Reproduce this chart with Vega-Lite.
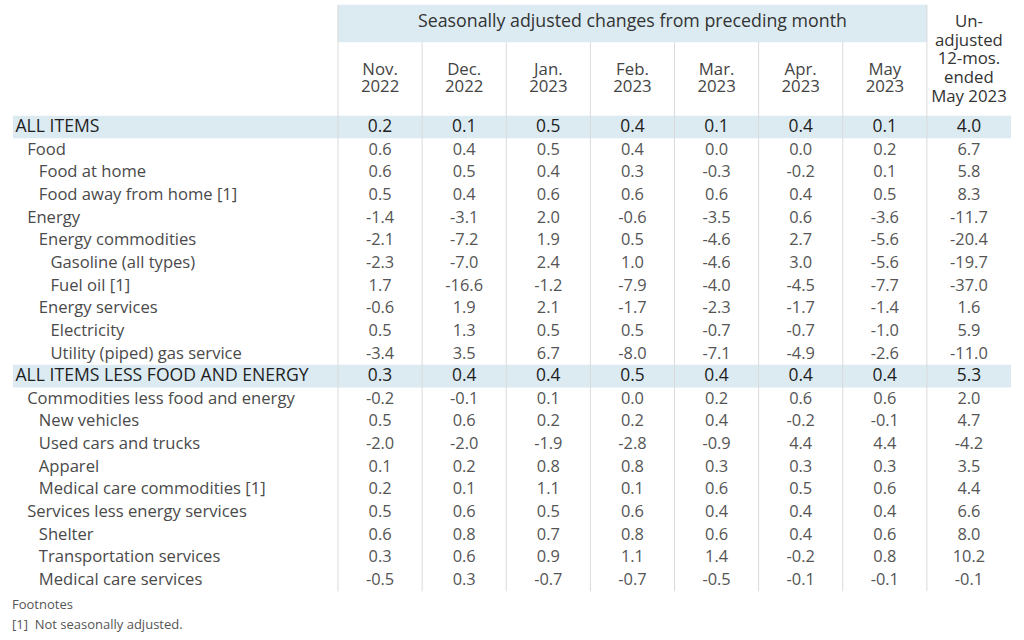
{
  "$schema": "https://vega.github.io/schema/vega-lite/v6.json",
  "width": 1024,
  "height": 640,
  "autosize": "none",
  "padding": 0,
  "background": "white",
  "config": {
    "view": {"stroke": null},
    "text": {"font": "Open Sans"},
    "locale": {"number": {"decimal": ".", "thousands": ",", "grouping": [3], "currency": ["$", ""], "minus": "-"}}
  },
  "datasets": {
    "rows": [
      {"row": 1, "item": "ALL ITEMS", "level": 0, "summary": true, "nov22": 0.2, "dec22": 0.1, "jan23": 0.5, "feb23": 0.4, "mar23": 0.1, "apr23": 0.4, "may23": 0.1, "yoy": 4.0},
      {"row": 2, "item": "Food", "level": 1, "summary": false, "nov22": 0.6, "dec22": 0.4, "jan23": 0.5, "feb23": 0.4, "mar23": 0.0, "apr23": 0.0, "may23": 0.2, "yoy": 6.7},
      {"row": 3, "item": "Food at home", "level": 2, "summary": false, "nov22": 0.6, "dec22": 0.5, "jan23": 0.4, "feb23": 0.3, "mar23": -0.3, "apr23": -0.2, "may23": 0.1, "yoy": 5.8},
      {"row": 4, "item": "Food away from home [1]", "level": 2, "summary": false, "nov22": 0.5, "dec22": 0.4, "jan23": 0.6, "feb23": 0.6, "mar23": 0.6, "apr23": 0.4, "may23": 0.5, "yoy": 8.3},
      {"row": 5, "item": "Energy", "level": 1, "summary": false, "nov22": -1.4, "dec22": -3.1, "jan23": 2.0, "feb23": -0.6, "mar23": -3.5, "apr23": 0.6, "may23": -3.6, "yoy": -11.7},
      {"row": 6, "item": "Energy commodities", "level": 2, "summary": false, "nov22": -2.1, "dec22": -7.2, "jan23": 1.9, "feb23": 0.5, "mar23": -4.6, "apr23": 2.7, "may23": -5.6, "yoy": -20.4},
      {"row": 7, "item": "Gasoline (all types)", "level": 3, "summary": false, "nov22": -2.3, "dec22": -7.0, "jan23": 2.4, "feb23": 1.0, "mar23": -4.6, "apr23": 3.0, "may23": -5.6, "yoy": -19.7},
      {"row": 8, "item": "Fuel oil [1]", "level": 3, "summary": false, "nov22": 1.7, "dec22": -16.6, "jan23": -1.2, "feb23": -7.9, "mar23": -4.0, "apr23": -4.5, "may23": -7.7, "yoy": -37.0},
      {"row": 9, "item": "Energy services", "level": 2, "summary": false, "nov22": -0.6, "dec22": 1.9, "jan23": 2.1, "feb23": -1.7, "mar23": -2.3, "apr23": -1.7, "may23": -1.4, "yoy": 1.6},
      {"row": 10, "item": "Electricity", "level": 3, "summary": false, "nov22": 0.5, "dec22": 1.3, "jan23": 0.5, "feb23": 0.5, "mar23": -0.7, "apr23": -0.7, "may23": -1.0, "yoy": 5.9},
      {"row": 11, "item": "Utility (piped) gas service", "level": 3, "summary": false, "nov22": -3.4, "dec22": 3.5, "jan23": 6.7, "feb23": -8.0, "mar23": -7.1, "apr23": -4.9, "may23": -2.6, "yoy": -11.0},
      {"row": 12, "item": "ALL ITEMS LESS FOOD AND ENERGY", "level": 0, "summary": true, "nov22": 0.3, "dec22": 0.4, "jan23": 0.4, "feb23": 0.5, "mar23": 0.4, "apr23": 0.4, "may23": 0.4, "yoy": 5.3},
      {"row": 13, "item": "Commodities less food and energy", "level": 1, "summary": false, "nov22": -0.2, "dec22": -0.1, "jan23": 0.1, "feb23": 0.0, "mar23": 0.2, "apr23": 0.6, "may23": 0.6, "yoy": 2.0},
      {"row": 14, "item": "New vehicles", "level": 2, "summary": false, "nov22": 0.5, "dec22": 0.6, "jan23": 0.2, "feb23": 0.2, "mar23": 0.4, "apr23": -0.2, "may23": -0.1, "yoy": 4.7},
      {"row": 15, "item": "Used cars and trucks", "level": 2, "summary": false, "nov22": -2.0, "dec22": -2.0, "jan23": -1.9, "feb23": -2.8, "mar23": -0.9, "apr23": 4.4, "may23": 4.4, "yoy": -4.2},
      {"row": 16, "item": "Apparel", "level": 2, "summary": false, "nov22": 0.1, "dec22": 0.2, "jan23": 0.8, "feb23": 0.8, "mar23": 0.3, "apr23": 0.3, "may23": 0.3, "yoy": 3.5},
      {"row": 17, "item": "Medical care commodities [1]", "level": 2, "summary": false, "nov22": 0.2, "dec22": 0.1, "jan23": 1.1, "feb23": 0.1, "mar23": 0.6, "apr23": 0.5, "may23": 0.6, "yoy": 4.4},
      {"row": 18, "item": "Services less energy services", "level": 1, "summary": false, "nov22": 0.5, "dec22": 0.6, "jan23": 0.5, "feb23": 0.6, "mar23": 0.4, "apr23": 0.4, "may23": 0.4, "yoy": 6.6},
      {"row": 19, "item": "Shelter", "level": 2, "summary": false, "nov22": 0.6, "dec22": 0.8, "jan23": 0.7, "feb23": 0.8, "mar23": 0.6, "apr23": 0.4, "may23": 0.6, "yoy": 8.0},
      {"row": 20, "item": "Transportation services", "level": 2, "summary": false, "nov22": 0.3, "dec22": 0.6, "jan23": 0.9, "feb23": 1.1, "mar23": 1.4, "apr23": -0.2, "may23": 0.8, "yoy": 10.2},
      {"row": 21, "item": "Medical care services", "level": 2, "summary": false, "nov22": -0.5, "dec22": 0.3, "jan23": -0.7, "feb23": -0.7, "mar23": -0.5, "apr23": -0.1, "may23": -0.1, "yoy": -0.1}
    ],
    "cols": [
      {"col": "nov22", "head": "Nov.\n2022", "kind": "month"},
      {"col": "dec22", "head": "Dec.\n2022", "kind": "month"},
      {"col": "jan23", "head": "Jan.\n2023", "kind": "month"},
      {"col": "feb23", "head": "Feb.\n2023", "kind": "month"},
      {"col": "mar23", "head": "Mar.\n2023", "kind": "month"},
      {"col": "apr23", "head": "Apr.\n2023", "kind": "month"},
      {"col": "may23", "head": "May\n2023", "kind": "month"},
      {"col": "yoy", "head": "Un-\nadjusted\n12-mos.\nended\nMay 2023", "kind": "unadj"}
    ]
  },
  "resolve": {"scale": {"x": "independent", "y": "independent"}},
  "layer": [
    {
      "data": {"name": "rows"},
      "transform": [{"filter": "datum.summary"}],
      "mark": {"type": "rect", "color": "#dcebf2"},
      "encoding": {
        "x": {"datum": 0, "type": "quantitative", "scale": {"domain": [0, 1], "range": [13, 1011]}, "axis": null},
        "x2": {"datum": 1},
        "y": {"field": "row", "type": "ordinal", "scale": {"type": "band", "domain": [1,2,3,4,5,6,7,8,9,10,11,12,13,14,15,16,17,18,19,20,21], "range": [115.7, 591.3], "paddingInner": 0, "paddingOuter": 0}, "axis": null}
      }
    },
    {
      "data": {"name": "cols"},
      "transform": [{"filter": "datum.kind == 'month'"}],
      "mark": {"type": "rect", "color": "#dcebf2", "stroke": "#dcebf2", "strokeWidth": 0.6},
      "encoding": {
        "x": {"field": "col", "type": "nominal", "scale": {"type": "band", "domain": ["nov22","dec22","jan23","feb23","mar23","apr23","may23","yoy"], "range": [338, 1011], "paddingInner": 0, "paddingOuter": 0}, "axis": null},
        "y": {"datum": "title", "type": "nominal", "scale": {"type": "band", "domain": ["title","h1","h2"], "range": [5, 115.7], "paddingInner": 0, "paddingOuter": 0}, "axis": null}
      }
    },
    {
      "data": {"name": "cols"},
      "mark": {"type": "rule", "color": "#dadada", "strokeWidth": 1},
      "encoding": {
        "x": {"field": "col", "type": "nominal", "bandPosition": 0, "scale": {"type": "band", "domain": ["nov22","dec22","jan23","feb23","mar23","apr23","may23","yoy"], "range": [338, 1011], "paddingInner": 0, "paddingOuter": 0}, "axis": null},
        "y": {"datum": 1, "type": "ordinal", "bandPosition": 0, "scale": {"type": "band", "domain": [1,2,3,4,5,6,7,8,9,10,11,12,13,14,15,16,17,18,19,20,21], "range": [115.7, 591.3], "paddingInner": 0, "paddingOuter": 0}, "axis": null},
        "y2": {"datum": 21, "bandPosition": 1}
      }
    },
    {
      "data": {"name": "cols"},
      "mark": {"type": "rule", "color": "#dadada", "strokeWidth": 1},
      "encoding": {
        "x": {"field": "col", "type": "nominal", "bandPosition": 0, "scale": {"type": "band", "domain": ["nov22","dec22","jan23","feb23","mar23","apr23","may23","yoy"], "range": [338, 1011], "paddingInner": 0, "paddingOuter": 0}, "axis": null},
        "y": {"datum": "h1", "type": "nominal", "bandPosition": 0, "scale": {"type": "band", "domain": ["title","h1","h2"], "range": [5, 115.7], "paddingInner": 0, "paddingOuter": 0}, "axis": null},
        "y2": {"datum": "h2", "bandPosition": 1}
      }
    },
    {
      "data": {"name": "cols"},
      "transform": [{"filter": {"field": "col", "oneOf": ["nov22", "yoy"]}}],
      "mark": {"type": "rule", "color": "#dadada", "strokeWidth": 1},
      "encoding": {
        "x": {"field": "col", "type": "nominal", "bandPosition": 0, "scale": {"type": "band", "domain": ["nov22","dec22","jan23","feb23","mar23","apr23","may23","yoy"], "range": [338, 1011], "paddingInner": 0, "paddingOuter": 0}, "axis": null},
        "y": {"datum": "title", "type": "nominal", "bandPosition": 0, "scale": {"type": "band", "domain": ["title","h1","h2"], "range": [5, 115.7], "paddingInner": 0, "paddingOuter": 0}, "axis": null},
        "y2": {"datum": "h1", "bandPosition": 0}
      }
    },
    {
      "data": {"values": [{"t": "Seasonally adjusted changes from preceding month"}]},
      "mark": {"type": "text", "fontSize": 17.8, "color": "#333333", "align": "center", "baseline": "middle"},
      "encoding": {
        "text": {"field": "t"},
        "x": {"datum": "feb23", "type": "nominal", "scale": {"type": "band", "domain": ["nov22","dec22","jan23","feb23","mar23","apr23","may23","yoy"], "range": [338, 1011], "paddingInner": 0, "paddingOuter": 0}, "axis": null},
        "y": {"datum": "title", "type": "nominal", "bandPosition": 0.46, "scale": {"type": "band", "domain": ["title","h1","h2"], "range": [5, 115.7], "paddingInner": 0, "paddingOuter": 0}, "axis": null}
      }
    },
    {
      "data": {"name": "cols"},
      "transform": [{"filter": "datum.kind == 'month'"}],
      "mark": {"type": "text", "fontSize": 16.8, "lineHeight": 17, "lineBreak": "\n", "color": "#444444", "align": "center", "baseline": "middle"},
      "encoding": {
        "text": {"field": "head"},
        "x": {"field": "col", "type": "nominal", "scale": {"type": "band", "domain": ["nov22","dec22","jan23","feb23","mar23","apr23","may23","yoy"], "range": [338, 1011], "paddingInner": 0, "paddingOuter": 0}, "axis": null},
        "y": {"datum": "h1", "type": "nominal", "bandPosition": 0.76, "scale": {"type": "band", "domain": ["title","h1","h2"], "range": [5, 115.7], "paddingInner": 0, "paddingOuter": 0}, "axis": null}
      }
    },
    {
      "data": {"name": "cols"},
      "transform": [{"filter": "datum.kind == 'unadj'"}],
      "mark": {"type": "text", "fontSize": 16.8, "lineHeight": 18.75, "lineBreak": "\n", "color": "#333333", "align": "center", "baseline": "middle"},
      "encoding": {
        "text": {"field": "head"},
        "x": {"field": "col", "type": "nominal", "scale": {"type": "band", "domain": ["nov22","dec22","jan23","feb23","mar23","apr23","may23","yoy"], "range": [338, 1011], "paddingInner": 0, "paddingOuter": 0}, "axis": null},
        "y": {"datum": "title", "type": "nominal", "bandPosition": 0.46, "scale": {"type": "band", "domain": ["title","h1","h2"], "range": [5, 115.7], "paddingInner": 0, "paddingOuter": 0}, "axis": null}
      }
    },
    {
      "data": {"name": "rows"},
      "transform": [{"filter": "!datum.summary"}],
      "mark": {"type": "text", "fontSize": 16.6, "color": "#4a4a4a", "align": "left", "baseline": "middle"},
      "encoding": {
        "text": {"field": "item"},
        "x": {"field": "level", "type": "quantitative", "scale": {"domain": [0, 3], "range": [15.5, 50.5]}, "axis": null},
        "y": {"field": "row", "type": "ordinal", "scale": {"type": "band", "domain": [1,2,3,4,5,6,7,8,9,10,11,12,13,14,15,16,17,18,19,20,21], "range": [115.7, 591.3], "paddingInner": 0, "paddingOuter": 0}, "axis": null}
      }
    },
    {
      "data": {"name": "rows"},
      "transform": [{"filter": "datum.summary"}],
      "mark": {"type": "text", "fontSize": 17.6, "fontWeight": 500, "color": "#1e1e1e", "align": "left", "baseline": "middle"},
      "encoding": {
        "text": {"field": "item"},
        "x": {"field": "level", "type": "quantitative", "scale": {"domain": [0, 3], "range": [15.5, 50.5]}, "axis": null},
        "y": {"field": "row", "type": "ordinal", "scale": {"type": "band", "domain": [1,2,3,4,5,6,7,8,9,10,11,12,13,14,15,16,17,18,19,20,21], "range": [115.7, 591.3], "paddingInner": 0, "paddingOuter": 0}, "axis": null}
      }
    },
    {
      "data": {"name": "rows"},
      "transform": [
        {"filter": "!datum.summary"},
        {"fold": ["nov22","dec22","jan23","feb23","mar23","apr23","may23","yoy"], "as": ["col", "value"]}
      ],
      "mark": {"type": "text", "fontSize": 16.4, "color": "#555555", "align": "center", "baseline": "middle"},
      "encoding": {
        "text": {"field": "value", "type": "quantitative", "format": ".1f"},
        "x": {"field": "col", "type": "nominal", "scale": {"type": "band", "domain": ["nov22","dec22","jan23","feb23","mar23","apr23","may23","yoy"], "range": [338, 1011], "paddingInner": 0, "paddingOuter": 0}, "axis": null},
        "y": {"field": "row", "type": "ordinal", "scale": {"type": "band", "domain": [1,2,3,4,5,6,7,8,9,10,11,12,13,14,15,16,17,18,19,20,21], "range": [115.7, 591.3], "paddingInner": 0, "paddingOuter": 0}, "axis": null}
      }
    },
    {
      "data": {"name": "rows"},
      "transform": [
        {"filter": "datum.summary"},
        {"fold": ["nov22","dec22","jan23","feb23","mar23","apr23","may23","yoy"], "as": ["col", "value"]}
      ],
      "mark": {"type": "text", "fontSize": 17.4, "fontWeight": 500, "color": "#1e1e1e", "align": "center", "baseline": "middle"},
      "encoding": {
        "text": {"field": "value", "type": "quantitative", "format": ".1f"},
        "x": {"field": "col", "type": "nominal", "scale": {"type": "band", "domain": ["nov22","dec22","jan23","feb23","mar23","apr23","may23","yoy"], "range": [338, 1011], "paddingInner": 0, "paddingOuter": 0}, "axis": null},
        "y": {"field": "row", "type": "ordinal", "scale": {"type": "band", "domain": [1,2,3,4,5,6,7,8,9,10,11,12,13,14,15,16,17,18,19,20,21], "range": [115.7, 591.3], "paddingInner": 0, "paddingOuter": 0}, "axis": null}
      }
    },
    {
      "data": {"values": [{"line": 1, "note": "Footnotes"}, {"line": 2, "note": "[1]\u00a0 Not seasonally adjusted."}]},
      "mark": {"type": "text", "fontSize": 13, "color": "#555555", "align": "left", "baseline": "middle"},
      "encoding": {
        "text": {"field": "note"},
        "x": {"datum": 0, "type": "quantitative", "scale": {"domain": [0, 1], "range": [12, 1012]}, "axis": null},
        "y": {"field": "line", "type": "ordinal", "scale": {"type": "point", "domain": [1, 2], "range": [605, 625], "padding": 0}, "axis": null}
      }
    }
  ]
}
